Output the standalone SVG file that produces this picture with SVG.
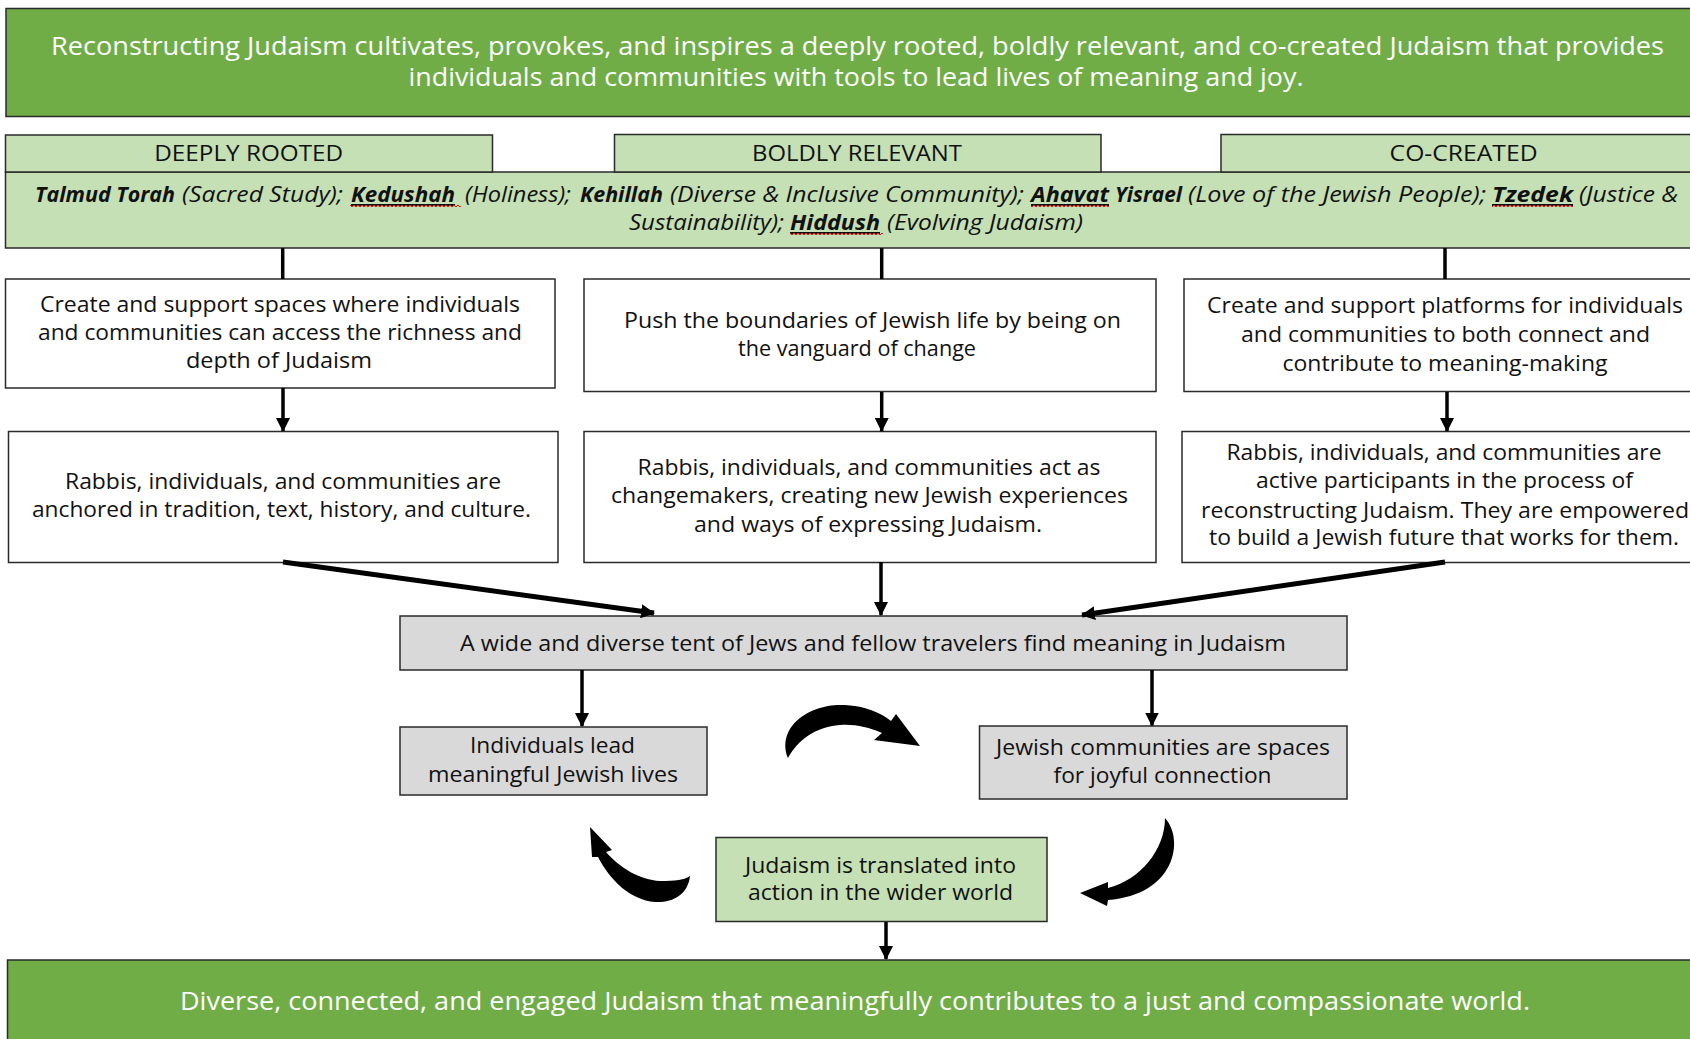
<svg xmlns="http://www.w3.org/2000/svg" width="1690" height="1039" viewBox="0 0 1690 1039">
<defs>
<style>
text { font-family: "Open Sans", "Liberation Sans", sans-serif; fill: #111; }
.box { stroke: #2a2a2a; stroke-width: 1.5; }
.white { fill: #ffffff; }
.gray { fill: #d9d9d9; }
.light { fill: #c5e0b4; }
.dark { fill: #70ad47; }
.t { font-size: 21px; }
.ban { font-size: 25px; fill: #ffffff; }
.hdr { font-size: 21.5px; }
.val { font-size: 21.5px; font-style: italic; }
.b { font-weight: bold; }
.u { text-decoration: underline; }
.conn { stroke: #000; stroke-width: 3.5; fill: none; }
.thick { stroke-width: 5; }
.curve { fill: #000; stroke: none; }
</style>
<marker id="ah" markerUnits="userSpaceOnUse" viewBox="0 0 14 14" markerWidth="14" markerHeight="14" refX="13" refY="7" orient="auto">
<path d="M0,0 L14,7 L0,14 Z" fill="#000"/>
</marker>
<pattern id="wave" width="4" height="4" patternUnits="userSpaceOnUse">
<path d="M0,3 L2,1 L4,3" stroke="#e0201b" stroke-width="1" fill="none"/>
</pattern>
</defs>

<g id="mission">
<rect class="box dark" x="6" y="8.5" width="1700" height="108"/>
<text class="ban" x="857.5" y="55" text-anchor="middle" textLength="1613" lengthAdjust="spacingAndGlyphs">Reconstructing Judaism cultivates, provokes, and inspires a deeply rooted, boldly relevant, and co-created Judaism that provides</text>
<text class="ban" x="856" y="86" text-anchor="middle" textLength="895" lengthAdjust="spacingAndGlyphs">individuals and communities with tools to lead lives of meaning and joy.</text>
</g>

<g id="values">
<rect class="box light" x="5.5" y="172" width="1700" height="76"/>
<text class="val b" x="35" y="202" textLength="140" lengthAdjust="spacingAndGlyphs">Talmud Torah</text>
<text class="val" x="182" y="202" textLength="161" lengthAdjust="spacingAndGlyphs">(Sacred Study);</text>
<text class="val b u" x="351" y="202" textLength="104" lengthAdjust="spacingAndGlyphs">Kedushah</text>
<text class="val" x="465" y="202" textLength="106" lengthAdjust="spacingAndGlyphs">(Holiness);</text>
<text class="val b" x="580" y="202" textLength="83" lengthAdjust="spacingAndGlyphs">Kehillah</text>
<text class="val" x="670" y="202" textLength="354" lengthAdjust="spacingAndGlyphs">(Diverse &amp; Inclusive Community);</text>
<text class="val b u" x="1031" y="202" textLength="78" lengthAdjust="spacingAndGlyphs">Ahavat</text>
<text class="val b" x="1115" y="202" textLength="67" lengthAdjust="spacingAndGlyphs">Yisrael</text>
<text class="val" x="1188" y="202" textLength="298" lengthAdjust="spacingAndGlyphs">(Love of the Jewish People);</text>
<text class="val b u" x="1492" y="202" textLength="81" lengthAdjust="spacingAndGlyphs">Tzedek</text>
<text class="val" x="1579" y="202" textLength="99" lengthAdjust="spacingAndGlyphs">(Justice &amp;</text>
<text class="val" x="629" y="230" textLength="155" lengthAdjust="spacingAndGlyphs">Sustainability);</text>
<text class="val b u" x="790" y="230" textLength="90" lengthAdjust="spacingAndGlyphs">Hiddush</text>
<text class="val" x="887" y="230" textLength="196" lengthAdjust="spacingAndGlyphs">(Evolving Judaism)</text>
<rect x="350" y="205" width="111" height="4" fill="url(#wave)"/>
<rect x="1031" y="205" width="78" height="4" fill="url(#wave)"/>
<rect x="1492" y="205" width="81" height="4" fill="url(#wave)"/>
<rect x="790" y="233" width="93" height="4" fill="url(#wave)"/>
</g>

<g id="deeply-rooted">
<rect class="box light" x="5.5" y="135" width="487" height="37"/>
<text class="hdr" x="248.7" y="161" text-anchor="middle" textLength="189" lengthAdjust="spacingAndGlyphs">DEEPLY ROOTED</text>
</g>
<g id="boldly-relevant">
<rect class="box light" x="614.5" y="134.5" width="486.5" height="37.5"/>
<text class="hdr" x="857" y="161" text-anchor="middle" textLength="210" lengthAdjust="spacingAndGlyphs">BOLDLY RELEVANT</text>
</g>
<g id="co-created">
<rect class="box light" x="1221" y="134.5" width="480" height="37.5"/>
<text class="hdr" x="1463.6" y="161" text-anchor="middle" textLength="148" lengthAdjust="spacingAndGlyphs">CO-CREATED</text>
</g>

<g id="strategy-rooted">
<rect class="box white" x="5.5" y="279" width="549.5" height="109"/>
<text class="t" x="280" y="312" text-anchor="middle" textLength="480" lengthAdjust="spacingAndGlyphs">Create and support spaces where individuals</text>
<text class="t" x="280" y="340" text-anchor="middle" textLength="484" lengthAdjust="spacingAndGlyphs">and communities can access the richness and</text>
<text class="t" x="279" y="368" text-anchor="middle" textLength="186" lengthAdjust="spacingAndGlyphs">depth of Judaism</text>
</g>
<g id="strategy-relevant">
<rect class="box white" x="584" y="279" width="572" height="112.5"/>
<text class="t" x="872.5" y="328" text-anchor="middle" textLength="497" lengthAdjust="spacingAndGlyphs">Push the boundaries of Jewish life by being on</text>
<text class="t" x="857" y="356" text-anchor="middle" textLength="238" lengthAdjust="spacingAndGlyphs">the vanguard of change</text>
</g>
<g id="strategy-cocreated">
<rect class="box white" x="1184" y="279" width="520" height="112.5"/>
<text class="t" x="1445" y="313" text-anchor="middle" textLength="476" lengthAdjust="spacingAndGlyphs">Create and support platforms for individuals</text>
<text class="t" x="1445.5" y="342" text-anchor="middle" textLength="409" lengthAdjust="spacingAndGlyphs">and communities to both connect and</text>
<text class="t" x="1445" y="371" text-anchor="middle" textLength="325" lengthAdjust="spacingAndGlyphs">contribute to meaning-making</text>
</g>

<g id="outcome-rooted">
<rect class="box white" x="8.5" y="431.5" width="549.5" height="131"/>
<text class="t" x="283" y="489" text-anchor="middle" textLength="436" lengthAdjust="spacingAndGlyphs">Rabbis, individuals, and communities are</text>
<text class="t" x="281.5" y="517" text-anchor="middle" textLength="499" lengthAdjust="spacingAndGlyphs">anchored in tradition, text, history, and culture.</text>
</g>
<g id="outcome-relevant">
<rect class="box white" x="584" y="431.5" width="572" height="131"/>
<text class="t" x="869" y="475" text-anchor="middle" textLength="463" lengthAdjust="spacingAndGlyphs">Rabbis, individuals, and communities act as</text>
<text class="t" x="869.5" y="503" text-anchor="middle" textLength="517" lengthAdjust="spacingAndGlyphs">changemakers, creating new Jewish experiences</text>
<text class="t" x="868" y="532" text-anchor="middle" textLength="348" lengthAdjust="spacingAndGlyphs">and ways of expressing Judaism.</text>
</g>
<g id="outcome-cocreated">
<rect class="box white" x="1182" y="431.5" width="520" height="131"/>
<text class="t" x="1444" y="460" text-anchor="middle" textLength="435" lengthAdjust="spacingAndGlyphs">Rabbis, individuals, and communities are</text>
<text class="t" x="1444.5" y="488" text-anchor="middle" textLength="377" lengthAdjust="spacingAndGlyphs">active participants in the process of</text>
<text class="t" x="1445" y="518" text-anchor="middle" textLength="488" lengthAdjust="spacingAndGlyphs">reconstructing Judaism. They are empowered</text>
<text class="t" x="1444" y="545" text-anchor="middle" textLength="470" lengthAdjust="spacingAndGlyphs">to build a Jewish future that works for them.</text>
</g>

<g id="tent">
<rect class="box gray" x="400" y="616" width="947" height="54"/>
<text class="t" x="873" y="651" text-anchor="middle" textLength="826" lengthAdjust="spacingAndGlyphs">A wide and diverse tent of Jews and fellow travelers find meaning in Judaism</text>
</g>
<g id="individuals">
<rect class="box gray" x="400" y="727" width="307" height="68"/>
<text class="t" x="552.5" y="753" text-anchor="middle" textLength="165" lengthAdjust="spacingAndGlyphs">Individuals lead</text>
<text class="t" x="553" y="782" text-anchor="middle" textLength="250" lengthAdjust="spacingAndGlyphs">meaningful Jewish lives</text>
</g>
<g id="communities">
<rect class="box gray" x="979.5" y="726" width="367.5" height="73"/>
<text class="t" x="1163" y="755" text-anchor="middle" textLength="334" lengthAdjust="spacingAndGlyphs">Jewish communities are spaces</text>
<text class="t" x="1162.5" y="783" text-anchor="middle" textLength="218" lengthAdjust="spacingAndGlyphs">for joyful connection</text>
</g>
<g id="action">
<rect class="box light" x="716" y="837.5" width="331" height="84"/>
<text class="t" x="880.5" y="872.5" text-anchor="middle" textLength="271" lengthAdjust="spacingAndGlyphs">Judaism is translated into</text>
<text class="t" x="880.5" y="900" text-anchor="middle" textLength="265" lengthAdjust="spacingAndGlyphs">action in the wider world</text>
</g>
<g id="vision">
<rect class="box dark" x="7.5" y="960" width="1700" height="90"/>
<text class="ban" x="855" y="1010" text-anchor="middle" textLength="1350" lengthAdjust="spacingAndGlyphs">Diverse, connected, and engaged Judaism that meaningfully contributes to a just and compassionate world.</text>
</g>

<g id="connectors">
<line class="conn" x1="282.7" y1="248" x2="282.7" y2="279"/>
<line class="conn" x1="881.7" y1="248" x2="881.7" y2="279"/>
<line class="conn" x1="1445" y1="248" x2="1445" y2="279"/>
<line class="conn" x1="283" y1="388" x2="283" y2="431" marker-end="url(#ah)"/>
<line class="conn" x1="881.7" y1="392" x2="881.7" y2="431" marker-end="url(#ah)"/>
<line class="conn" x1="1447" y1="392" x2="1447" y2="431" marker-end="url(#ah)"/>
<line class="conn thick" x1="283" y1="562" x2="654" y2="613" marker-end="url(#ah)"/>
<line class="conn" x1="881" y1="562" x2="881" y2="615" marker-end="url(#ah)"/>
<line class="conn thick" x1="1445" y1="562" x2="1082" y2="615" marker-end="url(#ah)"/>
<line class="conn" x1="582" y1="670" x2="582" y2="726" marker-end="url(#ah)"/>
<line class="conn" x1="1152" y1="670" x2="1152" y2="725.5" marker-end="url(#ah)"/>
<line class="conn" x1="886" y1="922" x2="886" y2="959" marker-end="url(#ah)"/>
<path class="curve" d="M788,758 C776,728 808,703 845,705 C866,706 881,713 891,721 L896,714 L920,746 L874,740 L882,733 C868,727 855,724 840,725 C815,727 798,740 788,758 Z"/>
<path class="curve" d="M690,876 C688,895 672,903 655,902 C630,900 610,880 598,857 L592,857 L590,827 L612,850 L606,852 C620,868 640,880 660,881 C675,881 685,880 690,876 Z"/>
<path class="curve" d="M1165,818 C1185,840 1175,895 1108,900 L1107,906 L1080,893 L1108,882 L1108,888 C1140,880 1165,850 1165,818 Z"/>
</g>
</svg>
